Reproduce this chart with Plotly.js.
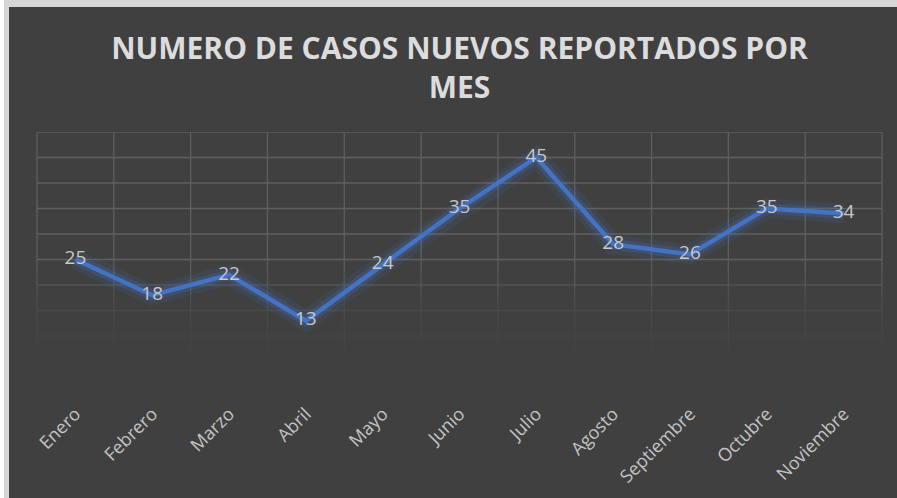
<!DOCTYPE html>
<html>
<head>
<meta charset="utf-8">
<script src="https://cdn.plot.ly/plotly-3.0.1.min.js"></script>
<style>
  html, body { margin: 0; padding: 0; background: #ffffff; width: 897px; height: 498px; overflow: hidden; }
  #frame { position: absolute; left: 4px; top: 0px; width: 893px; height: 498px; background: #d6d6d6; }
  #chart { position: absolute; left: 9px; top: 7px; width: 888px; height: 491px; }
</style>
</head>
<body>
<div id="frame"></div>
<div id="chart"></div>
<script>
// ---- data ----
const months = ["Enero", "Febrero", "Marzo", "Abril", "Mayo", "Junio", "Julio", "Agosto", "Septiembre", "Octubre", "Noviembre"];
const cases = [25, 18, 22, 13, 24, 35, 45, 28, 26, 35, 34];
const gridValues = [0, 5, 10, 15, 20, 25, 30, 35, 40, 45, 50];
const chartTitle = "NUMERO DE CASOS NUEVOS REPORTADOS POR<br>MES";

// ---- style ----
const bg = "#404040";
const gridRGB = "95,95,95";
const lineColor = "#4472C4";
const yMax = 50;

function fade(v) { return Math.min(1, Math.pow(Math.max(v, 0) / 25, 2)); }

const shapes = [];
gridValues.forEach(v => {
  const op = fade(v);
  if (op <= 0.01) return;
  shapes.push({type: "line", layer: "below", xref: "paper", yref: "y", x0: 0, x1: 1, y0: v, y1: v,
               line: {color: "rgba(" + gridRGB + "," + op.toFixed(3) + ")", width: 1.3}});
});
const nCat = months.length;
for (let k = 0; k <= nCat; k++) {
  const xp = k / nCat;
  shapes.push({type: "line", layer: "below", xref: "paper", yref: "y", x0: xp, x1: xp, y0: 25, y1: yMax,
               line: {color: "rgba(" + gridRGB + ",1)", width: 1.3}});
  for (let s = 0; s < 25; s += 2.5) {
    const op = fade(s + 1.25);
    if (op <= 0.01) continue;
    shapes.push({type: "line", layer: "below", xref: "paper", yref: "y", x0: xp, x1: xp, y0: s, y1: s + 2.5,
                 line: {color: "rgba(" + gridRGB + "," + op.toFixed(3) + ")", width: 1.3}});
  }
}

const glowOuter = {x: months, y: cases, type: "scatter", mode: "lines", hoverinfo: "skip",
  line: {color: "rgba(68,114,196,0.12)", width: 20}, showlegend: false};
const glowInner = {x: months, y: cases, type: "scatter", mode: "lines", hoverinfo: "skip",
  line: {color: "rgba(68,114,196,0.20)", width: 11}, showlegend: false};
const main = {x: months, y: cases, type: "scatter", mode: "lines+text",
  text: cases.map(String), textposition: "middle center",
  textfont: {family: "Open Sans, sans-serif", size: 19, color: "#c8c8c8"},
  line: {color: lineColor, width: 4.5}, showlegend: false, cliponaxis: false};

const layout = {
  width: 888, height: 491,
  paper_bgcolor: bg, plot_bgcolor: bg,
  margin: {l: 28, r: 15, t: 125, b: 111},
  title: {text: chartTitle, x: 0.5, xref: "paper", xanchor: "center",
          y: 1 - 52 / 491, yref: "container", yanchor: "top",
          font: {family: "Open Sans, sans-serif", size: 30, color: "#dcdcdc", weight: "bold"}},
  xaxis: {type: "category", range: [-0.5, nCat - 0.5], showgrid: false, zeroline: false, showline: false,
          ticks: "", tickangle: -45, ticklabelstandoff: 12,
          tickfont: {family: "Open Sans, sans-serif", size: 18, color: "#c4c4c4"}},
  yaxis: {range: [0, yMax], showgrid: false, zeroline: false, showline: false, showticklabels: false, ticks: ""},
  shapes: shapes,
  showlegend: false
};

Plotly.newPlot("chart", [glowOuter, glowInner, main], layout, {staticPlot: true, displayModeBar: false});
</script>
</body>
</html>
